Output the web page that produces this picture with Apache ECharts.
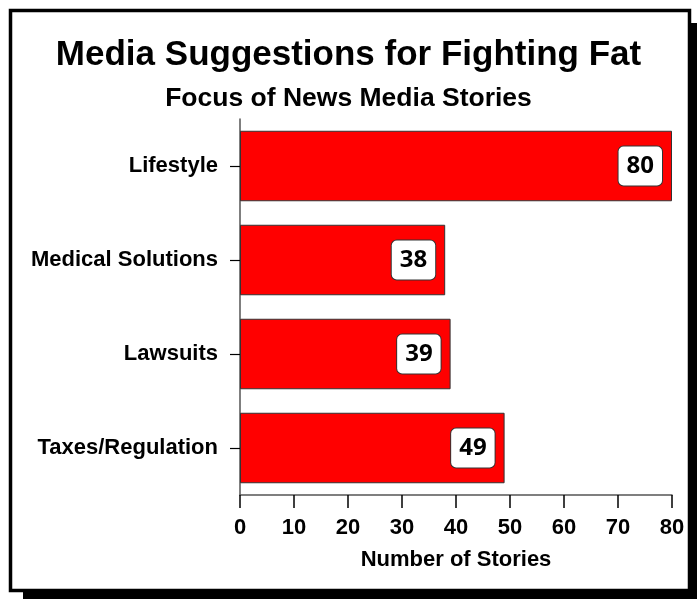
<!DOCTYPE html>
<html>
<head>
<meta charset="utf-8">
<script src="https://cdn.jsdelivr.net/npm/echarts@6/dist/echarts.min.js"></script>
<style>
  html, body { margin: 0; padding: 0; background: #fff; }
  #chart { width: 697px; height: 599px; }
</style>
</head>
<body>
<div id="chart"></div>
<script>
// data
var categories = ['Taxes/Regulation', 'Lawsuits', 'Medical Solutions', 'Lifestyle'];
var stories = [49, 39, 38, 80];
var xTicks = [0, 10, 20, 30, 40, 50, 60, 70, 80];

var chart = echarts.init(document.getElementById('chart'));

var option = {
    animation: false,
    backgroundColor: '#fff',
    graphic: [
        // drop shadow of the frame
        { type: 'rect', z: -10, shape: { x: 23, y: 23, width: 690, height: 590 }, style: { fill: '#000' } },
        // frame
        { type: 'rect', z: -9, shape: { x: 10.5, y: 10.5, width: 679, height: 580 },
          style: { fill: '#fff', stroke: '#000', lineWidth: 3.5 } }
    ],
    title: [
        {
            text: 'Media Suggestions for Fighting Fat',
            left: 'center',
            top: 33,
            textStyle: { fontFamily: 'Liberation Sans', fontWeight: 'bold', fontSize: 35, color: '#000' }
        },
        {
            text: 'Focus of News Media Stories',
            left: 'center',
            top: 80,
            textStyle: { fontFamily: 'Liberation Sans', fontWeight: 'bold', fontSize: 26.5, color: '#000' }
        }
    ],
    grid: { left: 240, right: 25, top: 119, bottom: 104 },
    xAxis: {
        type: 'value',
        min: 0,
        max: 80,
        interval: 10,
        name: 'Number of Stories',
        nameLocation: 'middle',
        nameGap: 54,
        nameTextStyle: { fontFamily: 'Liberation Sans', fontWeight: 'bold', fontSize: 22, color: '#000' },
        axisLine: { show: true, lineStyle: { color: '#555', width: 1.5 } },
        axisTick: { show: true, length: 13, inside: false, lineStyle: { color: '#000', width: 1.5 } },
        axisLabel: {
            margin: 22,
            fontFamily: 'Liberation Sans', fontWeight: 'bold', fontSize: 22, color: '#000',
            formatter: function (v) { return xTicks.indexOf(v) >= 0 ? String(v) : ''; }
        },
        splitLine: { show: false }
    },
    yAxis: {
        type: 'category',
        data: categories,
        axisLine: { show: true, lineStyle: { color: '#555', width: 1.5 } },
        axisTick: { show: true, length: 10, alignWithLabel: true, lineStyle: { color: '#000', width: 1.2 } },
        axisLabel: {
            margin: 22,
            fontFamily: 'Liberation Sans', fontWeight: 'bold', fontSize: 22, color: '#000'
        }
    },
    series: [
        {
            type: 'bar',
            data: stories,
            barCategoryGap: '25%',
            itemStyle: { color: '#ff0000', borderColor: '#333', borderWidth: 1 },
            label: {
                show: true,
                position: 'insideRight',
                distance: 10,
                fontFamily: 'Open Sans', fontWeight: 'bold', fontSize: 24, color: '#000',
                backgroundColor: '#fff',
                borderColor: '#333',
                borderWidth: 1,
                borderRadius: 5,
                padding: [8, 8, 7, 8]
            }
        }
    ]
};

chart.setOption(option);
</script>
</body>
</html>
